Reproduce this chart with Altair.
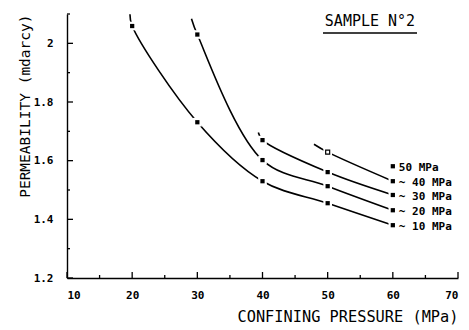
import altair as alt
import pandas as pd

# Permeability (mdarcy) measured at each confining pressure (MPa), one series per pore pressure
series_names = ["10 MPa", "20 MPa", "30 MPa", "40 MPa", "50 MPa"]
series_pressures = [
    [20, 30, 40, 50, 60],
    [30, 40, 50, 60],
    [40, 50, 60],
    [50, 60],
    [60],
]
series_perm = [
    [2.059, 1.731, 1.530, 1.455, 1.380],
    [2.030, 1.602, 1.513, 1.431],
    [1.670, 1.561, 1.483],
    [1.629, 1.530],
    [1.581],
]
# where each drawn curve begins (to the left of its first measurement)
curve_start_pressure = [19.66, 29.1, 39.36, 47.9, None]
curve_start_perm = [2.099, 2.084, 1.696, 1.656, None]

x_major_ticks = [10, 20, 30, 40, 50, 60, 70]
x_minor_ticks = [15, 25, 35, 45, 55, 65]
y_major_ticks = [1.2, 1.4, 1.6, 1.8, 2.0]
y_minor_ticks = [1.3, 1.5, 1.7, 1.9, 2.1]

chart_title = "SAMPLE N°2"
x_title = "CONFINING PRESSURE (MPa)"
y_title = "PERMEABILITY (mdarcy)"

W, H = 391, 264
MONO = "DejaVu Sans Mono"

points = pd.DataFrame(
    [
        {"series": name, "pressure": p, "perm": v}
        for name, ps, vs in zip(series_names, series_pressures, series_perm)
        for p, v in zip(ps, vs)
    ]
)

curves = []
for name, ps, vs, sx, sy in zip(
    series_names, series_pressures, series_perm, curve_start_pressure, curve_start_perm
):
    if len(ps) < 2:
        continue
    curves.append({"series": name, "pressure": sx, "perm": sy})
    curves += [{"series": name, "pressure": p, "perm": v} for p, v in zip(ps, vs)]
curves = pd.DataFrame(curves)

labels = pd.DataFrame(
    [
        {
            "series": name,
            "pressure": ps[-1],
            "perm": vs[-1],
            "label": ("~ " if len(ps) > 1 else "  ") + name,
        }
        for name, ps, vs in zip(series_names, series_pressures, series_perm)
    ]
)

xs = alt.Scale(domain=[10, 70], nice=False, zero=False)
ys = alt.Scale(domain=[1.2, 2.1], nice=False, zero=False)

x_axis = alt.Axis(
    values=x_major_ticks,
    format="d",
    grid=False,
    ticks=False,
    tickSize=0,
    domainColor="black",
    domainWidth=1.4,
    labelFont=MONO,
    labelFontWeight="bold",
    labelFontSize=11,
    labelColor="black",
    labelPadding=11,
    title=x_title,
    titleFont=MONO,
    titleFontWeight="normal",
    titleFontSize=15.3,
    titleColor="black",
    titleAnchor="end",
    titlePadding=9,
)
y_axis = alt.Axis(
    values=y_major_ticks,
    format=".1~f",
    grid=False,
    ticks=False,
    tickSize=0,
    domainColor="black",
    domainWidth=1.4,
    labelFont=MONO,
    labelFontWeight="bold",
    labelFontSize=11,
    labelColor="black",
    labelPadding=14,
    title=y_title,
    titleFont=MONO,
    titleFontWeight="normal",
    titleFontSize=14.5,
    titleColor="black",
    titleAnchor="end",
    titlePadding=1,
)


def X(field):
    return alt.X(f"{field}:Q", scale=xs, axis=x_axis)


def Y(field):
    return alt.Y(f"{field}:Q", scale=ys, axis=y_axis)


base = alt.Chart(points)


# inward-pointing tick marks on both axes
def x_ticks(values, length):
    return (
        alt.Chart(pd.DataFrame({"v": values}))
        .mark_rule(color="black", strokeWidth=1.3)
        .encode(x=X("v"), y=alt.value(H), y2=alt.value(H - length))
    )


def y_ticks(values, length):
    return (
        alt.Chart(pd.DataFrame({"v": values}))
        .mark_rule(color="black", strokeWidth=1.3)
        .encode(y=Y("v"), x=alt.value(0), x2=alt.value(length))
    )


lines = (
    alt.Chart(curves)
    .mark_line(interpolate="catmull-rom", color="black", strokeWidth=1.6)
    .encode(x=X("pressure"), y=Y("perm"), detail="series:N", order="pressure:Q")
)

# white halo leaves the small break in the curve around each marker
halo = base.mark_point(shape="square", filled=True, color="white", size=75, opacity=1).encode(
    x=X("pressure"), y=Y("perm")
)

markers = (
    base.mark_point(shape="square", filled=True, color="black", size=18, opacity=1)
    .encode(x=X("pressure"), y=Y("perm"))
    .transform_filter("!(datum.series == '40 MPa' && datum.pressure == 50)")
)

open_marker = (
    base.mark_point(shape="square", filled=False, color="black", strokeWidth=1.2, size=16, opacity=1)
    .encode(x=X("pressure"), y=Y("perm"))
    .transform_filter("datum.series == '40 MPa' && datum.pressure == 50")
)

series_labels = (
    alt.Chart(labels)
    .mark_text(align="left", baseline="middle", dx=6, dy=2, font=MONO, fontWeight="bold", fontSize=11, color="black")
    .encode(x=X("pressure"), y=Y("perm"), text="label:N")
)

title_text = (
    alt.Chart(pd.DataFrame({"t": [chart_title]}))
    .mark_text(align="center", baseline="middle", font=MONO, fontSize=15, color="black")
    .encode(text="t:N", x=alt.value(303), y=alt.value(7))
)
title_rule = (
    alt.Chart(pd.DataFrame({"t": [chart_title]}))
    .mark_rule(color="black", strokeWidth=1.4)
    .encode(x=alt.value(256), x2=alt.value(350), y=alt.value(19))
)

chart = (
    alt.layer(
        lines,
        x_ticks(x_major_ticks, 6),
        x_ticks(x_minor_ticks, 3),
        y_ticks(y_major_ticks, 6),
        y_ticks(y_minor_ticks, 3),
        halo,
        markers,
        open_marker,
        series_labels,
        title_text,
        title_rule,
    )
    .properties(
        width=W,
        height=H,
        autosize=alt.AutoSizeParams(type="none"),
        padding={"left": 67, "top": 14, "right": 11, "bottom": 52},
        background="white",
    )
    .configure_view(stroke=None)
)

chart.save("out.html", embed_options={"renderer": "svg", "actions": False})
